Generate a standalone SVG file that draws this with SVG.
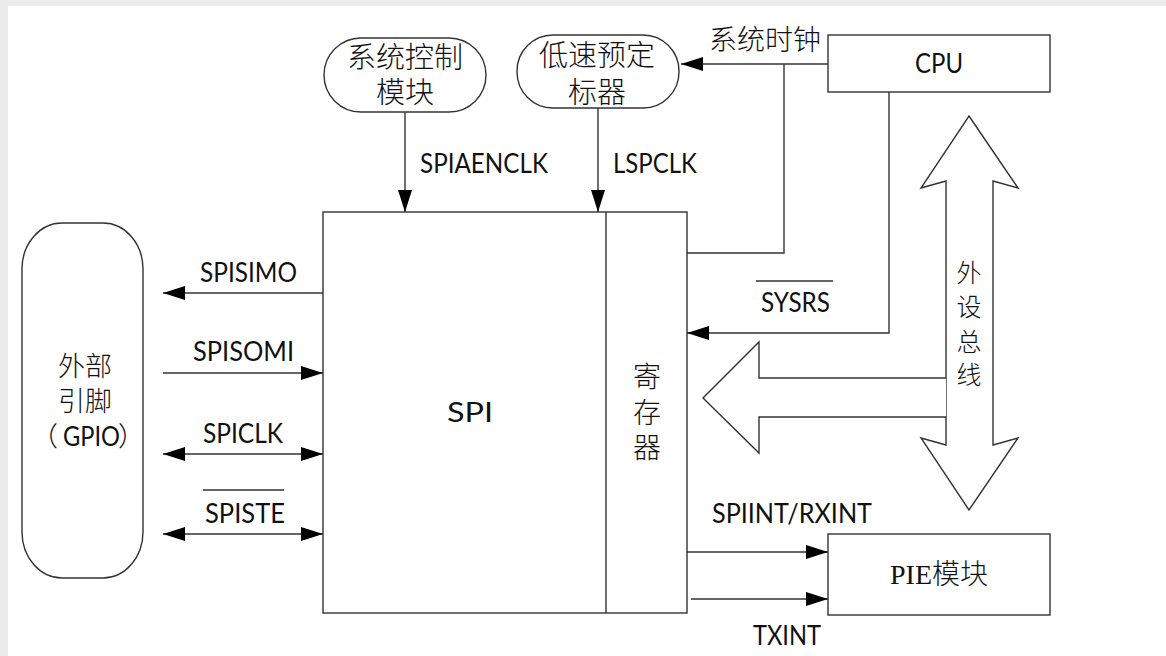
<svg xmlns="http://www.w3.org/2000/svg" width="1166" height="656" viewBox="0 0 1166 656">
<style>
.ln{fill:none;stroke:#333;stroke-width:1.4}
.bx{fill:#fff;stroke:#333;stroke-width:1.4}
.lat{font-family:Lato,"Open Sans","Liberation Sans",sans-serif;font-size:27px;fill:#111}
.cjk{font-family:"Noto Sans CJK SC",sans-serif;font-weight:300;fill:#111;text-anchor:middle}
.ser{font-family:"Liberation Serif","Noto Sans CJK SC",serif;font-weight:300;fill:#111}
.ar{marker-end:url(#ah)}
.ar2{marker-start:url(#ah);marker-end:url(#ah)}
</style>
<defs>
<marker id="ah" markerUnits="userSpaceOnUse" markerWidth="22" markerHeight="14" refX="22" refY="7" orient="auto-start-reverse" viewBox="0 0 22 14">
<path d="M0,0 L22,7 L0,14 z" fill="#000"/>
</marker>
</defs>
<rect x="0" y="0" width="1166" height="656" fill="#ececec"/>
<rect x="8" y="6" width="1158" height="650" fill="#fff"/>

<g id="sysctrl">
<rect class="bx" x="324" y="38" width="162" height="74" rx="37" ry="37"/>
<text class="cjk" font-size="29"><tspan x="405" y="68">系统控制</tspan><tspan x="405" y="103">模块</tspan></text>
</g>
<g id="lspclk-prescaler">
<rect class="bx" x="517" y="35" width="162" height="73" rx="36" ry="36"/>
<text class="cjk" font-size="29"><tspan x="597" y="66">低速预定</tspan><tspan x="597" y="103">标器</tspan></text>
</g>
<g id="cpu">
<rect class="bx" x="828" y="35" width="222" height="57"/>
<text class="lat" x="915" y="73" textLength="48" lengthAdjust="spacingAndGlyphs">CPU</text>
</g>
<g id="gpio">
<rect class="bx" x="22" y="223" width="121" height="355" rx="40" ry="46"/>
<text font-size="27" style="font-family:'Noto Sans CJK SC',sans-serif;font-weight:300;fill:#111"><tspan x="85" y="376" text-anchor="middle">外部</tspan><tspan x="85" y="411" text-anchor="middle">引脚</tspan><tspan x="31" y="446">（</tspan><tspan x="63" y="446" textLength="57" lengthAdjust="spacingAndGlyphs" style="font-family:Lato,sans-serif;font-weight:400">GPIO</tspan><tspan x="118" y="446">）</tspan></text>
</g>
<g id="spi">
<rect class="bx" x="323" y="212" width="364" height="401"/>
<line class="ln" x1="606" y1="212" x2="606" y2="613"/>
<text class="lat" x="447" y="422" textLength="46" lengthAdjust="spacingAndGlyphs">SPI</text>
<text class="ser" font-size="28" text-anchor="middle"><tspan x="647" y="387">寄</tspan><tspan x="647" y="423">存</tspan><tspan x="647" y="458">器</tspan></text>
</g>
<g id="pie">
<rect class="bx" x="828" y="534" width="222" height="81"/>
<text class="ser" x="890" y="584" font-size="28">PIE模块</text>
</g>
<g id="peripheral-bus">
<polygon class="bx" points="969,116 1018,188 993,181 993,445 1018,438 969,510 921,438 946,445 946,181 921,188"/>
<polygon points="946,378 759,378 759,342 703,398 759,453 759,417 946,417" fill="#fff"/>
<polyline class="ln" points="946,378 759,378 759,342 703,398 759,453 759,417 946,417"/>
<text class="cjk" font-size="25"><tspan x="969" y="282">外</tspan><tspan x="969" y="316">设</tspan><tspan x="969" y="351">总</tspan><tspan x="969" y="384">线</tspan></text>
</g>

<g id="connectors">
<path class="ln ar" d="M405,112 V212"/>
<path class="ln ar" d="M598,108 V212"/>
<path class="ln ar" d="M828,64 H681"/>
<path class="ln" d="M784,64 V253 H687"/>
<path class="ln ar" d="M889,92 V333 H687"/>
<path class="ln ar" d="M323,293 H163"/>
<path class="ln ar" d="M163,373 H323"/>
<path class="ln ar2" d="M163,454 H323"/>
<path class="ln ar2" d="M163,534 H323"/>
<path class="ln ar" d="M687,552 H828"/>
<path class="ln ar" d="M691,599 H828"/>
<line class="ln" x1="203" y1="490" x2="284" y2="490"/>
<line class="ln" x1="756" y1="281" x2="833" y2="281"/>
<text class="lat" x="420" y="173" textLength="128" lengthAdjust="spacingAndGlyphs">SPIAENCLK</text>
<text class="lat" x="613" y="173" textLength="84" lengthAdjust="spacingAndGlyphs">LSPCLK</text>
<text class="cjk" x="765" y="50" font-size="28">系统时钟</text>
<text class="lat" x="761" y="312" textLength="69" lengthAdjust="spacingAndGlyphs">SYSRS</text>
<text class="lat" x="200" y="282" textLength="97" lengthAdjust="spacingAndGlyphs">SPISIMO</text>
<text class="lat" x="193" y="361" textLength="101" lengthAdjust="spacingAndGlyphs">SPISOMI</text>
<text class="lat" x="203" y="443" textLength="80" lengthAdjust="spacingAndGlyphs">SPICLK</text>
<text class="lat" x="205" y="523" textLength="80" lengthAdjust="spacingAndGlyphs">SPISTE</text>
<text class="lat" x="712" y="523" textLength="160" lengthAdjust="spacingAndGlyphs">SPIINT/RXINT</text>
<text class="lat" x="753" y="645" textLength="68" lengthAdjust="spacingAndGlyphs">TXINT</text>
</g>
</svg>
